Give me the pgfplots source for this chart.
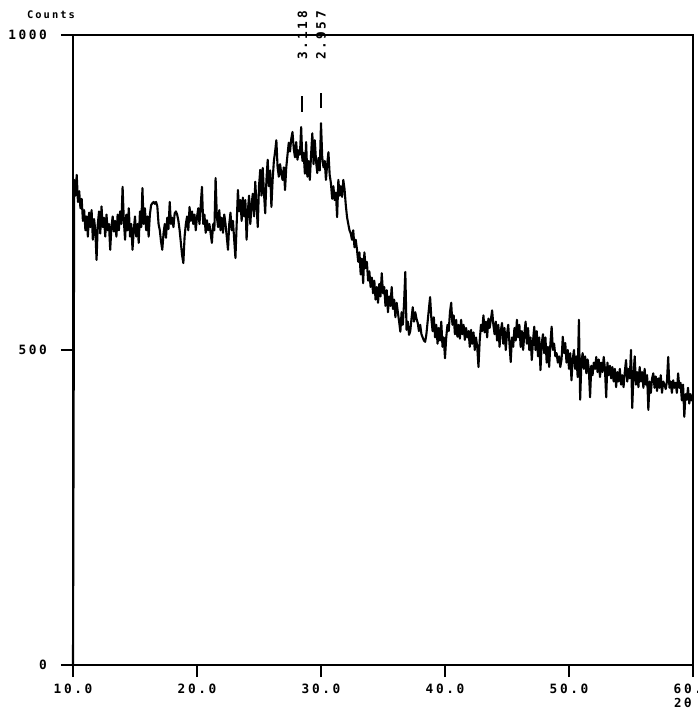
\documentclass[border=0pt]{standalone}
\usepackage{fontspec}
\usepackage{pgfplots}
\pgfplotsset{compat=1.18}
\newfontfamily\plotfont[LetterSpace=20]{DejaVu Sans Mono}
\begin{document}
\begin{tikzpicture}
\begin{axis}[name=ax,
  scale only axis, width=310pt, height=315pt,
  xmin=10, xmax=60, ymin=0, ymax=1000,
  xtick={10,20,30,40,50,60}, ytick={0,500,1000},
  xtick pos=left, ytick pos=left,
  tick align=outside, major tick length=6pt,
  tick style={line width=0.9pt, black},
  axis line style={line width=1.3pt},
  /pgf/number format/assume math mode=true,
  xticklabel style={font=\plotfont\bfseries\fontsize{6.4pt}{7pt}\selectfont, /pgf/number format/.cd, fixed, fixed zerofill, precision=1},
  yticklabel style={xshift=-3.5pt, font=\plotfont\bfseries\fontsize{6.4pt}{7pt}\selectfont, /pgf/number format/.cd, fixed, precision=0, 1000 sep={}},
  clip=false,
]
\addplot[black, line width=1.05pt, line join=round] coordinates {
(10.0,0)(10.1,770)(10.2,745)(10.3,778)(10.4,735)(10.5,752)(10.6,725)(10.7,740)(10.8,705)(10.9,722)(11.0,690)
(11.1,712)(11.2,680)(11.3,718)(11.4,695)(11.5,722)(11.6,675)(11.7,708)(11.8,690)(11.9,643)(12.0,700)
(12.1,720)(12.2,685)(12.3,728)(12.4,695)(12.5,710)(12.6,680)(12.7,715)(12.8,690)(12.9,700)(13.0,659)
(13.1,695)(13.2,712)(13.3,688)(13.4,705)(13.5,680)(13.6,715)(13.7,690)(13.8,720)(13.9,700)(14.0,759)
(14.1,705)(14.2,675)(14.3,715)(14.4,690)(14.5,725)(14.6,680)(14.7,700)(14.8,659)(14.9,690)(15.0,712)
(15.1,680)(15.2,700)(15.3,670)(15.4,720)(15.5,695)(15.6,757)(15.7,700)(15.8,725)(15.9,690)(16.0,712)
(16.1,680)(16.2,715)(16.3,730)(16.4,733)(16.5,735)(16.6,732)(16.7,735)(16.8,728)(16.9,700)(17.0,690)
(17.1,672)(17.2,659)(17.3,685)(17.4,700)(17.5,678)(17.6,710)(17.7,692)(17.8,735)(17.9,700)(18.0,710)
(18.1,695)(18.2,717)(18.3,720)(18.4,715)(18.5,705)(18.6,690)(18.7,670)(18.8,650)(18.9,638)(19.0,680)
(19.1,700)(19.2,712)(19.3,690)(19.4,727)(19.5,705)(19.6,720)(19.7,700)(19.8,715)(19.9,690)(20.0,711)
(20.1,725)(20.2,700)(20.3,730)(20.4,759)(20.5,700)(20.6,715)(20.7,686)(20.8,706)(20.9,690)(21.0,700)
(21.1,685)(21.2,670)(21.3,700)(21.4,690)(21.5,773)(21.6,712)(21.7,695)(21.8,722)(21.9,690)(22.0,710)
(22.1,686)(22.2,715)(22.3,700)(22.4,680)(22.5,659)(22.6,700)(22.7,718)(22.8,690)(22.9,705)(23.0,675)
(23.1,646)(23.2,700)(23.3,754)(23.4,720)(23.5,738)(23.6,705)(23.7,742)(23.8,712)(23.9,738)(24.0,675)
(24.1,720)(24.2,745)(24.3,700)(24.4,730)(24.5,748)(24.6,712)(24.7,767)(24.8,730)(24.9,695)(25.0,760)
(25.1,786)(25.2,745)(25.3,789)(25.4,750)(25.5,717)(25.6,770)(25.7,802)(25.8,760)(25.9,785)(26.0,727)
(26.1,770)(26.2,800)(26.3,815)(26.4,833)(26.5,790)(26.6,775)(26.7,795)(26.8,780)(26.9,770)(27.0,790)
(27.1,754)(27.2,790)(27.3,810)(27.4,829)(27.5,815)(27.6,835)(27.7,846)(27.8,820)(27.9,806)(28.0,830)
(28.1,802)(28.2,817)(28.3,810)(28.4,854)(28.5,800)(28.6,813)(28.7,780)(28.8,830)(28.9,775)(29.0,800)
(29.1,770)(29.2,810)(29.3,844)(29.4,795)(29.5,833)(29.6,800)(29.7,781)(29.8,805)(29.9,785)(30.0,860)
(30.1,806)(30.2,790)(30.3,800)(30.4,770)(30.5,795)(30.6,814)(30.7,778)(30.8,765)(30.9,740)(31.0,760)
(31.1,738)(31.2,750)(31.3,711)(31.4,770)(31.5,745)(31.6,760)(31.7,743)(31.8,770)(31.9,755)(32.0,730)
(32.1,711)(32.2,700)(32.3,690)(32.4,685)(32.5,675)(32.6,690)(32.7,663)(32.8,675)(32.9,660)(33.0,640)
(33.1,655)(33.2,620)(33.3,645)(33.4,606)(33.5,655)(33.6,630)(33.7,640)(33.8,610)(33.9,625)(34.0,600)
(34.1,615)(34.2,590)(34.3,610)(34.4,580)(34.5,600)(34.6,575)(34.7,605)(34.8,585)(34.9,622)(35.0,590)
(35.1,600)(35.2,570)(35.3,595)(35.4,560)(35.5,585)(35.6,570)(35.7,600)(35.8,565)(35.9,580)(36.0,552)
(36.1,575)(36.2,560)(36.3,545)(36.4,529)(36.5,560)(36.6,540)(36.7,575)(36.8,624)(36.9,532)(37.0,545)
(37.1,524)(37.2,530)(37.3,550)(37.4,568)(37.5,545)(37.6,560)(37.7,550)(37.8,543)(37.9,530)(38.0,540)
(38.1,525)(38.2,520)(38.3,515)(38.4,513)(38.5,525)(38.6,545)(38.7,565)(38.8,584)(38.9,550)(39.0,530)
(39.1,552)(39.2,520)(39.3,540)(39.4,510)(39.5,535)(39.6,515)(39.7,545)(39.8,505)(39.9,520)(40.0,487)
(40.1,520)(40.2,540)(40.3,530)(40.4,560)(40.5,575)(40.6,540)(40.7,555)(40.8,525)(40.9,548)(41.0,521)
(41.1,540)(41.2,518)(41.3,548)(41.4,525)(41.5,540)(41.6,516)(41.7,535)(41.8,520)(41.9,530)(42.0,505)
(42.1,532)(42.2,510)(42.3,528)(42.4,500)(42.5,520)(42.6,505)(42.7,473)(42.8,515)(42.9,540)(43.0,530)
(43.1,555)(43.2,528)(43.3,545)(43.4,520)(43.5,550)(43.6,535)(43.7,548)(43.8,563)(43.9,540)(44.0,525)
(44.1,545)(44.2,515)(44.3,540)(44.4,505)(44.5,530)(44.6,543)(44.7,510)(44.8,535)(44.9,500)(45.0,525)
(45.1,540)(45.2,510)(45.3,481)(45.4,520)(45.5,505)(45.6,535)(45.7,515)(45.8,548)(45.9,520)(46.0,540)
(46.1,505)(46.2,530)(46.3,500)(46.4,525)(46.5,545)(46.6,510)(46.7,535)(46.8,500)(46.9,520)(47.0,484)
(47.1,515)(47.2,537)(47.3,500)(47.4,530)(47.5,490)(47.6,520)(47.7,468)(47.8,510)(47.9,525)(48.0,495)
(48.1,520)(48.2,480)(48.3,505)(48.4,473)(48.5,510)(48.6,537)(48.7,500)(48.8,510)(48.9,490)(49.0,495)
(49.1,480)(49.2,490)(49.3,473)(49.4,485)(49.5,521)(49.6,495)(49.7,511)(49.8,480)(49.9,500)(50.0,470)
(50.1,495)(50.2,452)(50.3,485)(50.4,500)(50.5,470)(50.6,490)(50.7,457)(50.8,548)(50.9,421)(51.0,480)
(51.1,495)(51.2,470)(51.3,490)(51.4,463)(51.5,485)(51.6,470)(51.7,425)(51.8,475)(51.9,460)(52.0,480)
(52.1,470)(52.2,489)(52.3,465)(52.4,485)(52.5,457)(52.6,480)(52.7,465)(52.8,489)(52.9,470)(53.0,425)
(53.1,480)(53.2,460)(53.3,475)(53.4,455)(53.5,473)(53.6,450)(53.7,470)(53.8,441)(53.9,465)(54.0,450)
(54.1,470)(54.2,445)(54.3,460)(54.4,441)(54.5,465)(54.6,484)(54.7,450)(54.8,470)(54.9,455)(55.0,500)
(55.1,408)(55.2,460)(55.3,490)(55.4,445)(55.5,465)(55.6,441)(55.7,473)(55.8,450)(55.9,465)(56.0,440)
(56.1,470)(56.2,445)(56.3,460)(56.4,405)(56.5,450)(56.6,432)(56.7,455)(56.8,463)(56.9,440)(57.0,458)
(57.1,435)(57.2,455)(57.3,440)(57.4,460)(57.5,432)(57.6,450)(57.7,445)(57.8,438)(57.9,450)(58.0,489)
(58.1,440)(58.2,450)(58.3,432)(58.4,452)(58.5,440)(58.6,448)(58.7,432)(58.8,463)(58.9,440)(59.0,448)
(59.1,420)(59.2,445)(59.3,394)(59.4,430)(59.5,421)(59.6,440)(59.7,415)(59.8,430)(59.9,420)(60.0,425)
};
\addplot[black, line width=1.1pt] coordinates {(28.5,878)(28.5,903)};
\addplot[black, line width=1.1pt] coordinates {(30.0,884)(30.0,908)};
\node[rotate=90, anchor=west, inner sep=0pt, font=\plotfont\bfseries\fontsize{6.4pt}{7pt}\selectfont] at (axis cs:28.5,960) {3.118};
\node[rotate=90, anchor=west, inner sep=0pt, font=\plotfont\bfseries\fontsize{6.4pt}{7pt}\selectfont] at (axis cs:30.0,960) {2.957};
\node[font=\plotfont\bfseries\fontsize{5.2pt}{6pt}\selectfont, inner sep=0pt] at ([xshift=-11pt,yshift=10pt]rel axis cs:0,1) {Counts};
\node[font=\plotfont\bfseries\fontsize{6.2pt}{7pt}\selectfont, inner sep=0pt, anchor=east] at ([xshift=-0.5pt,yshift=-19pt]rel axis cs:1,0) {2θ};
\end{axis}
\pgfresetboundingbox
\path[use as bounding box] ([xshift=-36.5pt,yshift=-22pt]ax.south west) rectangle ([xshift=312.5pt,yshift=332.5pt]ax.south west);
\end{tikzpicture}
\end{document}
